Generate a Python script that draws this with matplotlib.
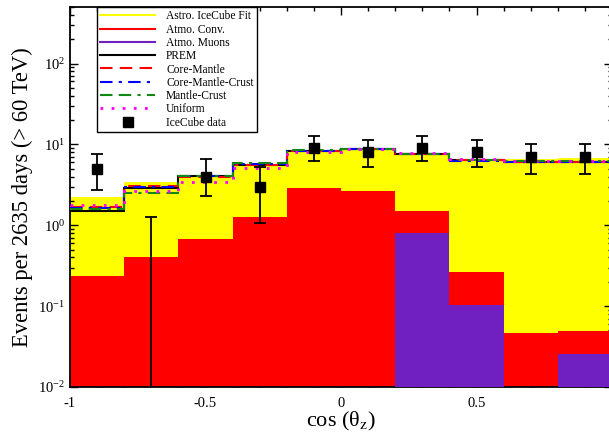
import numpy as np
import matplotlib
matplotlib.use("Agg")
import matplotlib.pyplot as plt
from matplotlib.ticker import MultipleLocator, LogLocator, FixedLocator, FixedFormatter

plt.rcParams['font.family'] = ['Liberation Serif', 'DejaVu Serif']
plt.rcParams['mathtext.fontset'] = 'stix'
plt.rcParams['axes.unicode_minus'] = False

# ---------------- data ----------------
edges = np.linspace(-1, 1, 11)
centers = [-0.9, -0.7, -0.5, -0.3, -0.1, 0.1, 0.3, 0.5, 0.7, 0.9]

astro_fit = [2.21, 3.43, 4.22, 5.6, 8.4, 8.75, 7.6, 6.35, 6.6, 6.7]
atmo_conv = [0.235, 0.40, 0.667, 1.26, 2.89, 2.67, 1.51, 0.268, 0.0467, 0.049]
atmo_mu = [0, 0, 0, 0, 0, 0, 0.80, 0.102, 0, 0.0258]

prem = [1.52, 2.86, 4.02, 5.61, 8.37, 8.68, 7.53, 6.35, 6.11, 6.11]
core_mantle = [1.68, 3.06, 3.9, 5.5, 8.4, 8.7, 7.5, 6.35, 6.1, 6.1]
core_mantle_crust = [1.62, 2.97, 4.05, 5.7, 8.4, 8.7, 7.55, 6.3, 6.05, 6.05]
mantle_crust = [1.59, 2.48, 4.05, 5.89, 8.45, 8.72, 7.6, 6.4, 6.15, 6.15]
uniform = [1.79, 2.62, 3.43, 5.11, 8.1, 8.75, 7.75, 6.6, 6.28, 6.3]

data = [5, 0, 4, 3, 9, 8, 9, 8, 7, 7]
err_lo = [2.27, 0, 1.73, 1.92, 2.7, 2.7, 2.7, 2.7, 2.74, 2.74]
err_hi = [2.68, 1.27, 2.67, 2.2, 3.6, 3.2, 3.6, 3.2, 3.2, 3.2]

xticks = [-1, -0.5, 0, 0.5]
xticklabels = ['-1', '-0.5', '0', '0.5']

# ---------------- figure ----------------
fig = plt.figure(figsize=(6.09, 4.36), dpi=100)
ax = fig.add_axes([70 / 609, 49 / 436, 542 / 609, 380 / 436])
ax.set_yscale('log')

w = np.diff(edges)
ax.bar(edges[:-1], astro_fit, width=w, align='edge', color='#ffff00', linewidth=0, zorder=1)
ax.bar(edges[:-1], atmo_conv, width=w, align='edge', color='#ff0000', linewidth=0, zorder=2)
ax.bar(edges[:-1], atmo_mu, width=w, align='edge', color='#7020c0', linewidth=0, zorder=3)

lw = 1.5
dash_red = (0, (6, 3.5))
dash_blue = (0, (6, 3, 1.5, 3))
dash_green = (0, (6, 3, 6, 3, 1.5, 3))
dot_mag = (0, (1, 3))
ax.stairs(prem, edges, baseline=None, color='black', lw=lw, zorder=4)
ax.stairs(core_mantle, edges, baseline=None, color='#ff0000', lw=lw, ls=dash_red, zorder=5)
ax.stairs(core_mantle_crust, edges, baseline=None, color='#0000ff', lw=lw, ls=dash_blue, zorder=5)
ax.stairs(mantle_crust, edges, baseline=None, color='#118811', lw=lw, ls=dash_green, zorder=5)
ax.stairs(uniform, edges, baseline=None, color='#ff00ff', lw=2, ls=dot_mag, zorder=6)

ax.errorbar(centers, data, yerr=[err_lo, err_hi], fmt='s', color='black', ms=7.5,
            elinewidth=1.3, capsize=4, capthick=1.3, zorder=7)

# legend proxies
h = [
    plt.Line2D([], [], color='#ffff00', lw=lw),
    plt.Line2D([], [], color='#ff0000', lw=lw),
    plt.Line2D([], [], color='#7020c0', lw=lw),
    plt.Line2D([], [], color='black', lw=lw),
    plt.Line2D([], [], color='#ff0000', lw=lw, ls=dash_red),
    plt.Line2D([], [], color='#0000ff', lw=lw, ls=dash_blue),
    plt.Line2D([], [], color='#118811', lw=lw, ls=dash_green),
    plt.Line2D([], [], color='#ff00ff', lw=2, ls=dot_mag),
    plt.Line2D([], [], color='black', marker='s', ms=7.5, ls='none'),
]
labels = ['Astro. IceCube Fit', 'Atmo. Conv.', 'Atmo. Muons', 'PREM', 'Core-Mantle',
          'Core-Mantle-Crust', 'Mantle-Crust', 'Uniform', 'IceCube data']
leg = ax.legend(h, labels, loc='upper left', bbox_to_anchor=(27 / 542, 1.0), borderaxespad=0,
                fontsize=8.3, handlelength=4.7, handletextpad=1.0, labelspacing=0.11,
                borderpad=0.3, frameon=True, fancybox=False, framealpha=1)
leg.get_frame().set_edgecolor('black')
leg.get_frame().set_linewidth(1.0)
leg.set_zorder(10)

ax.set_xlim(-1, 1)
ax.set_ylim(1e-2, 500)
ax.xaxis.set_major_locator(FixedLocator(xticks))
ax.xaxis.set_major_formatter(FixedFormatter(xticklabels))
ax.xaxis.set_minor_locator(MultipleLocator(0.1))
ax.yaxis.set_major_locator(LogLocator(base=10))
ax.yaxis.set_minor_locator(LogLocator(base=10, subs=np.arange(2, 10)))
ax.tick_params(which='both', direction='in', top=True, right=True, labelsize=10.5)
ax.tick_params(which='major', length=6, width=1)
ax.tick_params(which='minor', length=3, width=1)
ax.tick_params(axis='x', pad=7)
for s in ax.spines.values():
    s.set_linewidth(1.3)

ax.set_xlabel('cos (θ$_{\\mathrm{z}}$)', fontsize=16, labelpad=0)
ax.set_ylabel('Events per 2635 days (> 60 TeV)', fontsize=16.3, labelpad=4)

fig.savefig('out.png', dpi=100)
